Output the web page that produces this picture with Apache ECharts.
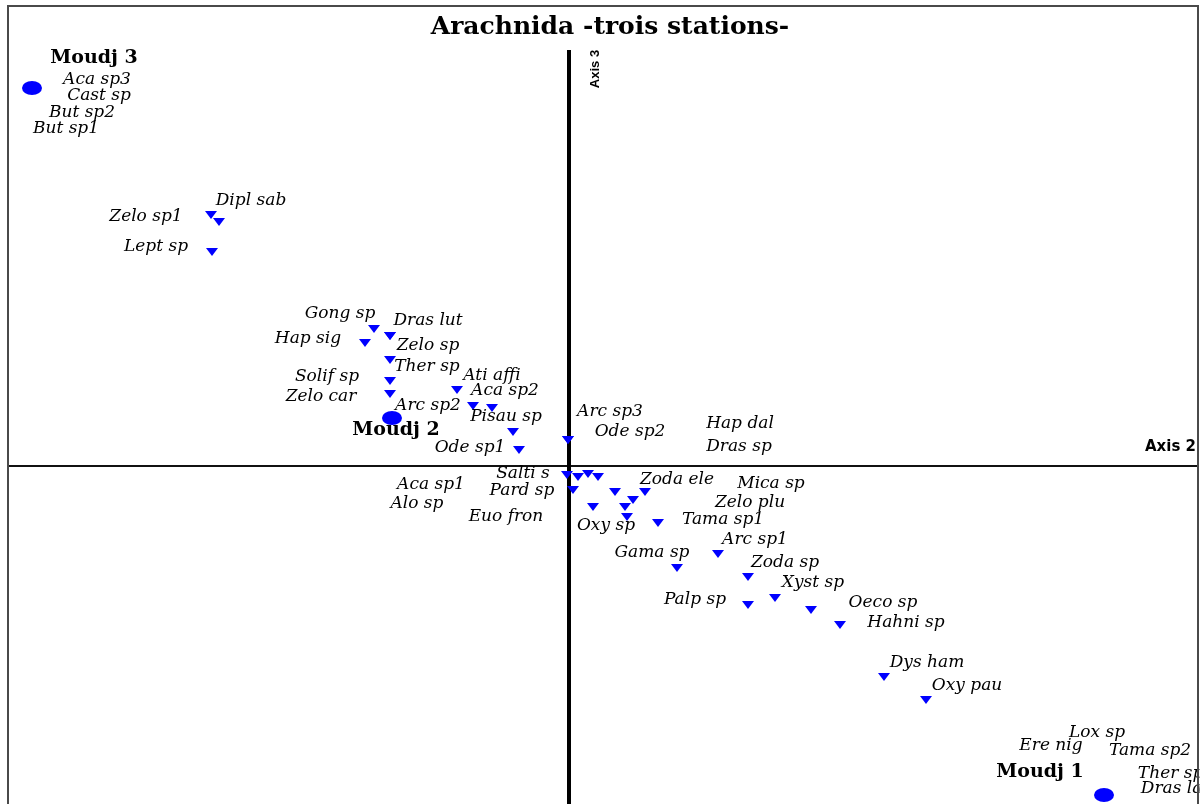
<!DOCTYPE html>
<html><head><meta charset="utf-8">
<script src="https://cdn.jsdelivr.net/npm/echarts@6/dist/echarts.min.js"></script>
<style>html,body{margin:0;padding:0;background:#fff}#c{width:1203px;height:804px}</style>
</head><body><div id="c"></div>
<script>
// ---------- data ----------
const chartTitle = 'Arachnida -trois stations-';
const axisNames = ['Axis 2', 'Axis 3'];

const stationNames = ['Moudj 1', 'Moudj 2', 'Moudj 3'];
const stationAxis2 = [2.675, -0.885, -2.685];
const stationAxis3 = [-1.645, 0.24, 1.89];

const speciesNames = ['Aca sp3','Cast sp','But sp2','But sp1','Zelo sp1','Dipl sab','Lept sp','Gong sp','Dras lut','Hap sig','Zelo sp','Ther sp','Solif sp','Zelo car','Ati affi','Aca sp2','Arc sp2','Pisau sp','Ode sp1','Arc sp3','Ode sp2','Hap dal','Dras sp','Salti s','Aca sp1','Pard sp','Alo sp','Euo fron','Oxy sp','Zoda ele','Mica sp','Zelo plu','Tama sp1','Arc sp1','Gama sp','Zoda sp','Xyst sp','Palp sp','Oeco sp','Hahni sp','Dys ham','Oxy pau','Lox sp','Ere nig','Tama sp2','Ther sp1','Dras lat'];
const speciesAxis2 = [-2.685,-2.685,-2.685,-2.685,-1.79,-1.75,-1.785,-0.975,-0.895,-1.02,-0.895,-0.895,-0.895,-0.895,-0.56,-0.48,-0.385,-0.28,-0.25,-0.005,-0.005,0.095,0.145,-0.01,0.045,0.02,0.12,0.29,0.28,0.23,0.38,0.32,0.445,0.745,0.54,0.895,1.03,0.895,1.21,1.355,1.575,1.785,2.675,2.675,2.675,2.675,2.675];
const speciesAxis3 = [1.89,1.89,1.89,1.89,1.255,1.22,1.07,0.685,0.65,0.615,0.65,0.53,0.425,0.36,0.38,0.30,0.29,0.17,0.08,0.13,0.13,-0.04,-0.055,-0.045,-0.055,-0.12,-0.205,-0.255,-0.205,-0.13,-0.13,-0.17,-0.285,-0.44,-0.51,-0.555,-0.66,-0.695,-0.72,-0.795,-1.055,-1.17,-1.645,-1.645,-1.645,-1.645,-1.645];

// ---------- layout (label placement, px) ----------
const speciesLabelOffset = [[65,-8],[67,8],[50,25],[34,41],[-65,2],[32,-21],[-56,-5],[-34,-15],[38,-15],[-57,-4],[38,10],[37,7],[-63,-4],[-69,3],[35,-14],[32,-15],[-64,-2],[-7,-15],[-49,-2],[42,-28],[62,-8],[152,-50],[141,-30],[-44,-1],[-147,8],[-51,1],[-176,-3],[-121,0],[-19,19],[62,-12],[126,-8],[117,3],[65,-3],[37,-14],[-25,-15],[37,-14],[38,-15],[-53,-5],[72,-7],[66,-2],[43,-14],[41,-14],[-7,-62],[-53,-49],[46,-44],[72,-21],[71,-6]];
const stationLabelOffset = [[-64,-23],[4,12],[62,-30]];

const xRange = [-2.805, 3.145];
const yRange = [-1.69, 2.3];
const axis3Top = 2.08;

// ---------- chart ----------
const chart = echarts.init(document.getElementById('c'));

const speciesData = speciesNames.map((n, i) => ({
  name: n,
  value: [speciesAxis2[i], speciesAxis3[i]],
  label: { offset: speciesLabelOffset[i] }
}));
const stationData = stationNames.map((n, i) => ({
  name: n,
  value: [stationAxis2[i], stationAxis3[i]],
  label: { offset: stationLabelOffset[i] }
}));

chart.setOption({
  animation: false,
  backgroundColor: '#fff',
  grid: { left: 8, right: 5, top: 6, bottom: 0, show: false },
  xAxis: {
    type: 'value', min: xRange[0], max: xRange[1],
    axisLine: { show: true, onZero: true, lineStyle: { color: '#111', width: 2 } },
    axisTick: { show: false }, axisLabel: { show: false }, splitLine: { show: false }
  },
  yAxis: {
    type: 'value', min: yRange[0], max: yRange[1],
    axisLine: { show: false }, axisTick: { show: false }, axisLabel: { show: false }, splitLine: { show: false }
  },
  graphic: [
    { type: 'text', x: 610, y: 27, z: 50,
      style: { text: chartTitle, align: 'center', verticalAlign: 'middle',
        font: 'bold 25px "DejaVu Serif"', fill: '#000' } },
    { type: 'text', x: 595, y: 69, rotation: Math.PI / 2, z: 50,
      style: { text: axisNames[1], align: 'center', verticalAlign: 'middle',
        font: 'bold 13px "Liberation Sans"', fill: '#000' } },
    { type: 'text', x: 1196, y: 447, z: 50,
      style: { text: axisNames[0], align: 'right', verticalAlign: 'middle',
        font: 'bold 15px "DejaVu Sans"', fill: '#000' } },
    { type: 'rect', z: 100, shape: { x: 1199.5, y: 0, width: 10, height: 804 }, style: { fill: '#fff' } },
    { type: 'polyline', z: 101, shape: { points: [[8, 810], [8, 6], [1198, 6], [1198, 810]] },
      style: { stroke: '#4a4a4a', lineWidth: 2, fill: null } }
  ],
  series: [
    {
      type: 'line', silent: true, symbol: 'none', z: 1,
      data: [[0, yRange[0]], [0, axis3Top]],
      lineStyle: { color: '#000', width: 4 }
    },
    {
      type: 'scatter', name: 'species', z: 3,
      symbol: 'triangle', symbolRotate: 180, symbolSize: [12, 8],
      itemStyle: { color: '#0000ff', opacity: 1 },
      label: { show: true, position: 'inside', formatter: '{b}', align: 'center', verticalAlign: 'middle',
        fontFamily: 'DejaVu Serif', fontStyle: 'italic', fontSize: 17, color: '#000', opacity: 1 },
      data: speciesData
    },
    {
      type: 'scatter', name: 'stations', z: 4,
      symbol: 'circle', symbolSize: [20, 14],
      itemStyle: { color: '#0000ff', opacity: 1 },
      label: { show: true, position: 'inside', formatter: '{b}', align: 'center', verticalAlign: 'middle',
        fontFamily: 'DejaVu Serif', fontWeight: 'bold', fontSize: 19, color: '#000', opacity: 1 },
      data: stationData
    }
  ]
});
</script></body></html>
